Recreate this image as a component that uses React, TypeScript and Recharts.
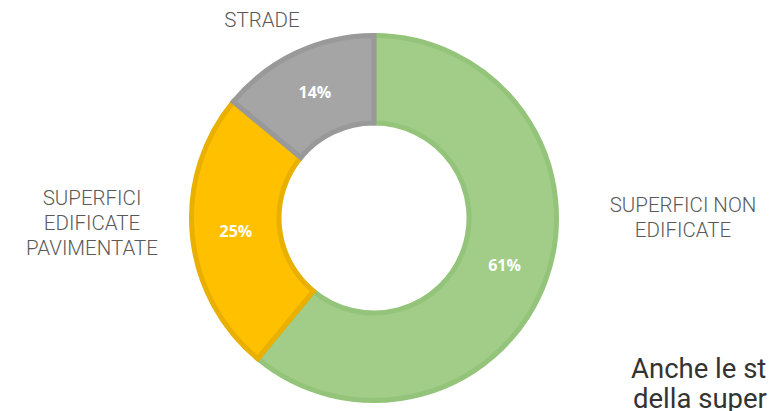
import React from "react";
import { PieChart, Pie, Cell } from "recharts";

const categories = ["SUPERFICI NON EDIFICATE", "SUPERFICI EDIFICATE PAVIMENTATE", "STRADE"];
const values = [61, 25, 14];
const fills = ["#a1cd88", "#ffc000", "#a5a5a5"];
const strokes = ["#93c47a", "#e9b000", "#999999"];

const nameLabels = [
  { lines: ["SUPERFICI NON", "EDIFICATE"], x: 683, y: 212 },
  { lines: ["SUPERFICI", "EDIFICATE", "PAVIMENTATE"], x: 92, y: 205 },
  { lines: ["STRADE"], x: 262, y: 27 },
];

const data = categories.map((name, i) => ({ name, value: values[i] }));

const RAD = Math.PI / 180;

const renderPct = (props: any) => {
  const { cx, cy, midAngle, innerRadius, outerRadius, value } = props;
  const r = (innerRadius + outerRadius) / 2;
  const x = cx + r * Math.cos(-midAngle * RAD);
  const y = cy + r * Math.sin(-midAngle * RAD);
  return (
    <text
      x={x}
      y={y}
      fill="#ffffff"
      textAnchor="middle"
      dominantBaseline="central"
      fontFamily="'Open Sans', sans-serif"
      fontWeight={700}
      fontSize={16}
    >
      {`${value}%`}
    </text>
  );
};

export default function App() {
  return (
    <div
      style={{
        position: "absolute",
        left: 0,
        top: 0,
        width: 769,
        height: 411,
        overflow: "hidden",
        background: "#ffffff",
      }}
    >
      <PieChart width={769} height={411} margin={{ top: 0, right: 0, bottom: 0, left: 0 }}>
        <Pie
          data={data}
          dataKey="value"
          nameKey="name"
          cx={374}
          cy={218}
          innerRadius={95}
          outerRadius={182.5}
          startAngle={90}
          endAngle={-270}
          strokeWidth={5}
          label={renderPct}
          labelLine={false}
          isAnimationActive={false}
        >
          {data.map((d, i) => (
            <Cell key={d.name} fill={fills[i]} stroke={strokes[i]} />
          ))}
        </Pie>
      </PieChart>
      <svg
        width={769}
        height={411}
        style={{ position: "absolute", left: 0, top: 0, pointerEvents: "none" }}
      >
        {nameLabels.map((l, i) =>
          l.lines.map((line, j) => (
            <text
              key={`${i}-${j}`}
              x={l.x}
              y={l.y + j * 25}
              textAnchor="middle"
              fontFamily="Roboto, sans-serif"
              fontWeight={300}
              fontSize={20.5}
              fill="#595959"
            >
              {line}
            </text>
          ))
        )}
        <text
          x={631}
          y={378}
          fontFamily="Roboto, sans-serif"
          fontWeight={400}
          fontSize={27.5}
          fill="#333333"
        >
          Anche le st
        </text>
        <text
          x={633}
          y={408}
          fontFamily="Roboto, sans-serif"
          fontWeight={400}
          fontSize={27.5}
          fill="#333333"
        >
          della super
        </text>
      </svg>
    </div>
  );
}
